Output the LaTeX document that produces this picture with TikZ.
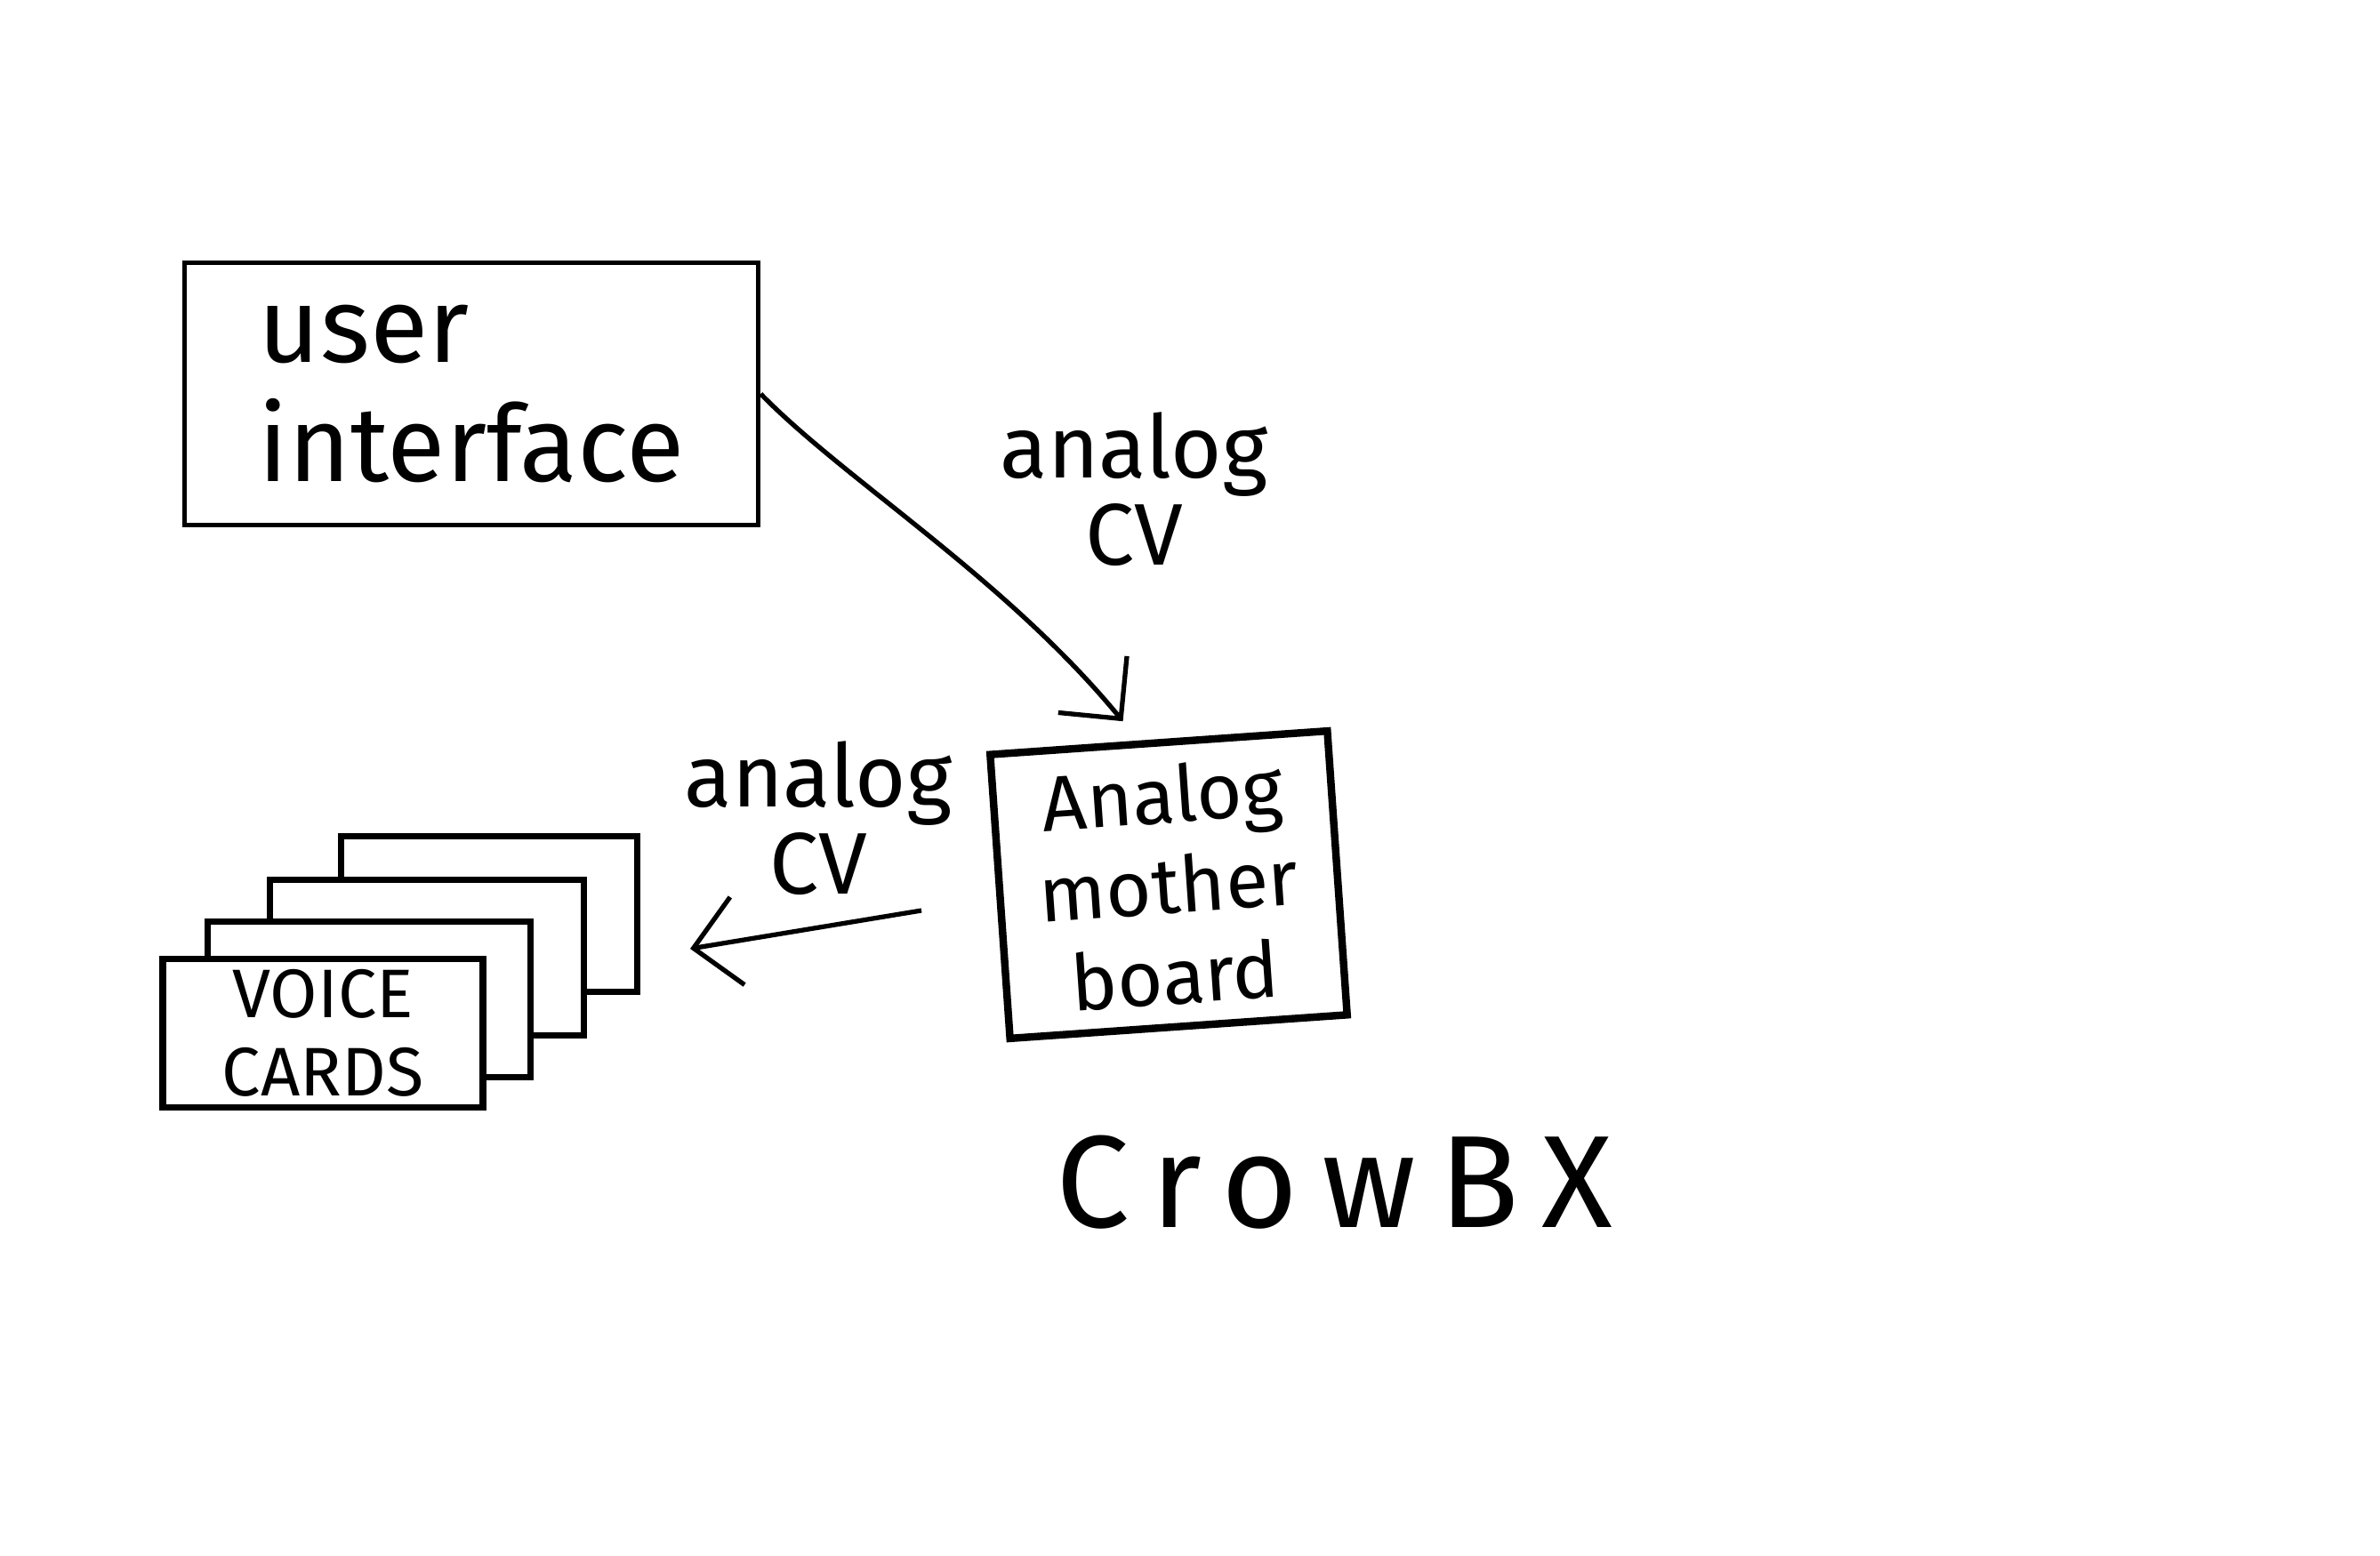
\documentclass[tikz,border=0pt]{standalone}
\usepackage{fontspec}
\setmainfont{Fira Sans}
\usetikzlibrary{arrows.meta,positioning}
\begin{document}
\begin{tikzpicture}[
  box/.style={draw,line width=1.6pt,align=left},
  card/.style={draw,fill=white,line width=2.2pt,minimum height=1.75cm},
  link/.style={line width=1.5pt,-{Straight Barb[length=5mm,width=10mm]}},
  lbl/.style={align=center,font=\fontsize{28}{28}\selectfont}]
  \useasboundingbox (0,0) rectangle (26.76,-17.49);
  \node[box,minimum width=6.45cm,minimum height=2.95cm,font=\fontsize{34}{38}\selectfont] (ui) at (5.3,-4.43) {user\\interface};
  \node[box,line width=2.4pt,align=center,rotate=4,minimum width=3.8cm,minimum height=3.2cm,font=\fontsize{25}{29}\selectfont] (mb) at (13.14,-9.95) {Analog\\mother\\board};
  \node[card,minimum width=3.33cm] (card4) at (5.5,-10.28) {};
  \node[card,minimum width=3.53cm] (card3) at (4.8,-10.77) {};
  \node[card,minimum width=3.63cm] (card2) at (4.15,-11.24) {};
  \node[card,minimum width=3.6cm,minimum height=1.67cm,align=center,font=\fontsize{22}{25}\selectfont] (card1) at (3.63,-11.62) {VOICE\\CARDS};
  \node[lbl] (cv1) at (12.75,-5.5) {analog\\CV};
  \node[lbl] (cv2) at (9.2,-9.2) {analog\\CV};
  \node[font=\fontsize{42}{46}\selectfont\addfontfeature{LetterSpace=18}] (name) at (15.0,-13.3) {CrowBX};
  \coordinate (cvout) at (10.36,-10.24);
  \coordinate (cvin) at (7.76,-10.67);
  \draw[link] (ui.east) .. controls (9.5,-5.4) and (11.3,-6.5) .. ([xshift=-4mm,yshift=2mm]mb.north);
  \draw[link] (cvout) -- (cvin);
\end{tikzpicture}
\end{document}
